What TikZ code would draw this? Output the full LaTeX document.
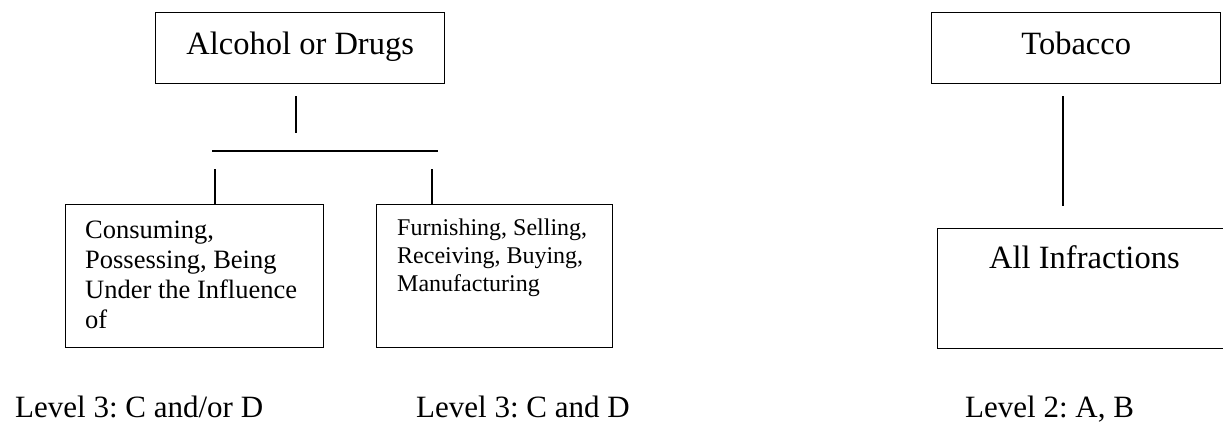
\documentclass[tikz,border=0pt]{standalone}
\usepackage{fontspec}
\setmainfont{Liberation Serif}
\frenchspacing
\begin{document}
\begin{tikzpicture}[x=1pt,y=-1pt,
  box/.style={draw, line width=1.4pt, inner sep=0pt, anchor=north west},
  topbox/.style={box, minimum width=289pt, minimum height=71pt, big, text height=22pt, text depth=10pt},
  conn/.style={line width=2pt},
  big/.style={font=\fontsize{32.5}{37}\selectfont},
  lvl/.style={font=\fontsize{31}{36}\selectfont},
  txt/.style={anchor=base west, inner sep=0pt},
]
\useasboundingbox (0,0) rectangle (1223,424);
\clip (0,0) rectangle (1223,424);

% boxes
\node[topbox] (alc) at (155,12) {Alcohol or Drugs};
\node[topbox] (tob) at (931,12) {Tobacco};
\node[box, minimum width=258pt, minimum height=143pt] (cons) at (65,204) {};
\node[box, minimum width=236pt, minimum height=143pt] (furn) at (376,204) {};
\node[box, minimum width=291pt, minimum height=119.5pt] (inf) at (937,228) {};

% box texts
\node[txt, font=\fontsize{26.5}{30}\selectfont] (consT) at (85,238)
  {\parbox[t]{235pt}{\raggedright Consuming,\\Possessing, Being\\Under the Influence\\of}};
\node[txt, font=\fontsize{24}{28}\selectfont] (furnT) at (397,235)
  {\parbox[t]{210pt}{\raggedright Furnishing, Selling,\\Receiving, Buying,\\Manufacturing}};
\node[txt, big] (infT) at (989,268) {All Infractions};

% level labels
\node[txt, lvl] (l1) at (15,417) {Level 3: C and/or D};
\node[txt, lvl] (l2) at (416,417) {Level 3: C and D};
\node[txt, lvl] (l3) at (965,417) {Level 2: A, B};

% connectors
\coordinate (a1) at (296,96);
\coordinate (a2) at (296,133);
\coordinate (h1) at (212,151);
\coordinate (h2) at (438,151);
\coordinate (s1) at (215,169);
\coordinate (s2) at (432,169);
\coordinate (t1) at (1063,96);
\coordinate (t2) at (1063,206);
\draw[conn] (a1) -- (a2);
\draw[conn] (h1) -- (h2);
\draw[conn] (s1) -- (s1 |- cons.north);
\draw[conn] (s2) -- (s2 |- furn.north);
\draw[conn] (t1) -- (t2);
\end{tikzpicture}
\end{document}
